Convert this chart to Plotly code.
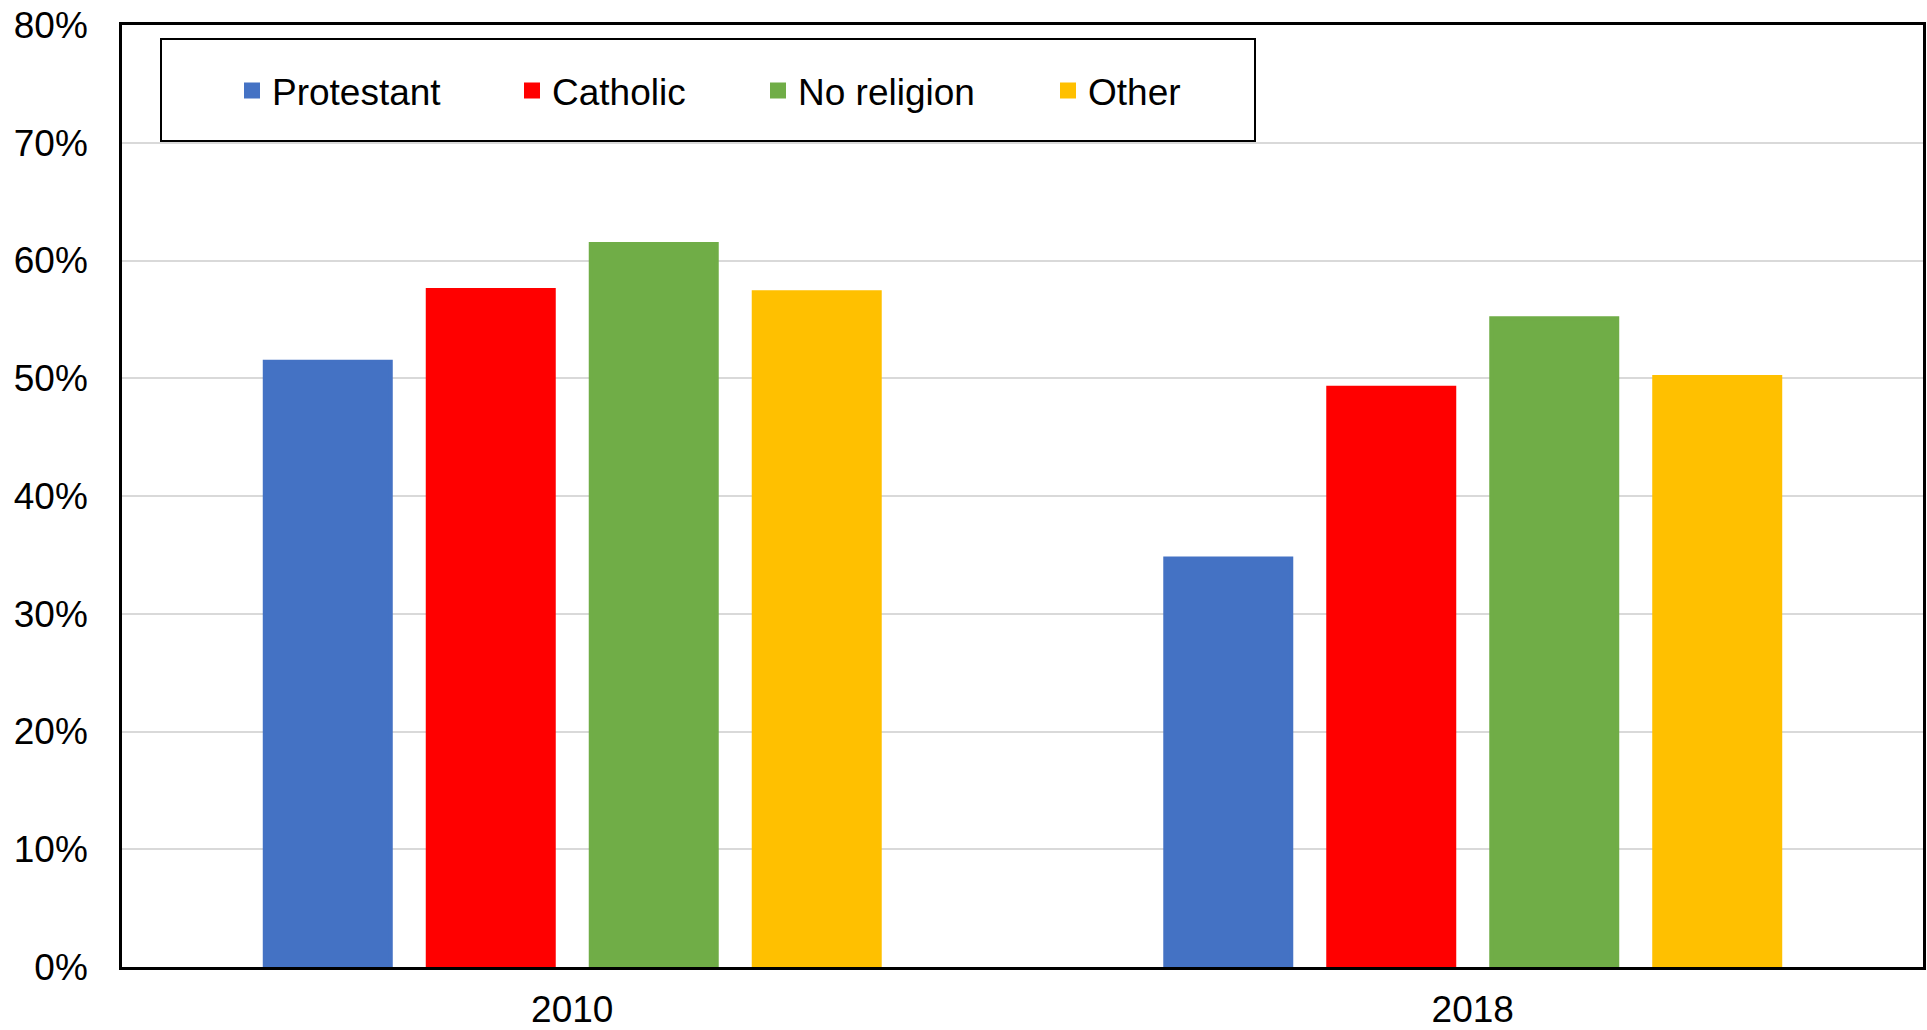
import plotly.graph_objects as go

years = ["2010", "2018"]
series_names = ["Protestant", "Catholic", "No religion", "Other"]
protestant = [51.4, 34.7]
catholic = [57.5, 49.2]
no_religion = [61.4, 55.1]
other = [57.3, 50.1]
y_ticks = [0, 10, 20, 30, 40, 50, 60, 70, 80]
y_tick_labels = [f"{v}%" for v in y_ticks]

colors = ["#4472C4", "#FF0000", "#70AD47", "#FFC000"]
values = [protestant, catholic, no_religion, other]

W, H = 1927, 1030
L, R, T, B = 122, 4, 25, 63
PW = W - L - R
PH = H - T - B

def px_x(px):
    return (px - L) / PW

def px_y(py):
    return (H - B - py) / PH

FONT = "Liberation Sans, Arial, sans-serif"
FS = 37

fig = go.Figure()
legend_names = ["legend", "legend2", "legend3", "legend4"]
for name, vals, col, lg in zip(series_names, values, colors, legend_names):
    fig.add_trace(go.Bar(x=years, y=vals, name=name,
                         marker=dict(color=col, line=dict(width=4, color=col)),
                         legend=lg))

text_starts = [274, 554, 800, 1090]
legend_cfg = {}
for lg, ts in zip(legend_names, text_starts):
    legend_cfg[lg] = dict(
        x=px_x(ts - 42), xanchor="left", y=px_y(91), yanchor="middle",
        orientation="h", bgcolor="rgba(0,0,0,0)", borderwidth=0,
        font=dict(family=FONT, size=FS, color="black"),
    )

fig.update_layout(
    width=W, height=H,
    margin=dict(l=L, r=R, t=T, b=B, pad=0, autoexpand=False),
    paper_bgcolor="white", plot_bgcolor="white",
    barmode="group", bargap=0.276, bargroupgap=0.227,
    font=dict(family=FONT, size=FS, color="black"),
    showlegend=True,
    xaxis=dict(showline=True, linecolor="black", linewidth=2.5, mirror=True,
               ticks="", tickfont=dict(family=FONT, size=FS, color="black"),
               ticklabelstandoff=8, showgrid=False, automargin=False,
               ticklabeloverflow="allow"),
    yaxis=dict(range=[0, 80], tickvals=y_ticks, ticktext=y_tick_labels,
               showline=True, linecolor="black", linewidth=2.5, mirror=True,
               showgrid=True, gridcolor="#D9D9D9", gridwidth=2,
               ticks="", ticklabelstandoff=24, zeroline=False, automargin=False,
               ticklabeloverflow="allow",
               tickfont=dict(family=FONT, size=FS, color="black")),
    shapes=[dict(type="rect", xref="paper", yref="paper",
                 x0=px_x(161), x1=px_x(1255), y0=px_y(141), y1=px_y(39),
                 line=dict(color="black", width=2), fillcolor="white", layer="below")],
    **legend_cfg,
)

fig.write_html(
    "out.html",
    config={"displayModeBar": False},
    post_script="document.body.style.margin='0';document.body.style.overflow='hidden';",
)
